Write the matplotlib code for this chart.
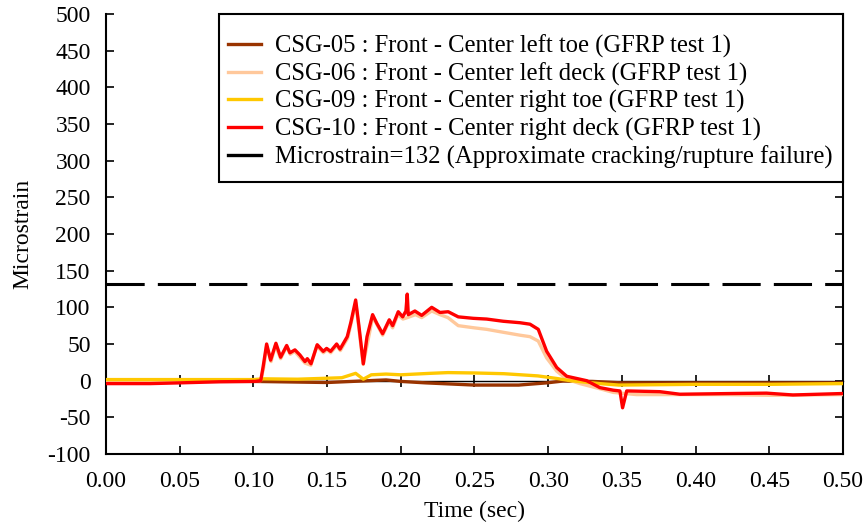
import matplotlib.pyplot as plt
from matplotlib.lines import Line2D
from matplotlib.patches import Rectangle

plt.rcParams['font.family'] = ['Liberation Serif', 'DejaVu Serif']
plt.rcParams['font.size'] = 17
plt.rcParams['axes.unicode_minus'] = False

# strain gauge readings (microstrain) vs time (sec)
t_csg05 = [0.0, 0.05, 0.10, 0.15, 0.19, 0.20, 0.217, 0.25, 0.28, 0.299, 0.31, 0.33, 0.35, 0.40, 0.45, 0.50]
csg05 = [-1, -1, -1, -2.5, 1, -1, -3, -6, -6, -3, -0.5, -1, -3, -3, -3, -3]

t_csg06 = [0.0, 0.05, 0.10, 0.105, 0.107, 0.109, 0.112, 0.115, 0.1185, 0.1225, 0.125, 0.128, 0.135,
           0.139, 0.143, 0.1475, 0.150, 0.1525, 0.1565, 0.159, 0.164, 0.1695, 0.1745, 0.181, 0.1877,
           0.192, 0.1945, 0.198, 0.2015, 0.2045, 0.210, 0.2142, 0.221, 0.2266, 0.232, 0.239, 0.250,
           0.2583, 0.2695, 0.2809, 0.2877, 0.2933, 0.299, 0.3058, 0.3126, 0.3216, 0.3351, 0.3442,
           0.360, 0.380, 0.420, 0.450, 0.500]
csg06 = [0.5, 0, 0.5, 0, 18, 47, 26, 48, 30, 46, 36, 40, 24,
         21, 47, 38, 42, 38, 48, 41, 58, 106, 22, 87, 62,
         80, 72, 90, 84, 86, 90, 86, 95, 90, 86, 75, 72,
         70, 66, 62, 60, 54, 31, 13, 2, -4, -11, -16,
         -19, -19, -19, -20, -19]

t_csg09 = [0.0, 0.05, 0.10, 0.107, 0.13, 0.16, 0.1694, 0.1746, 0.18, 0.19, 0.20, 0.22, 0.232, 0.25,
           0.27, 0.293, 0.3058, 0.315, 0.335, 0.348, 0.40, 0.45, 0.50]
csg09 = [1.5, 1.5, 1.5, 2.5, 2, 4, 10, 2, 8, 9, 8, 10, 11, 10.5,
         9.5, 6.5, 3, 0, -4, -6, -5, -5, -4]

t_csg10 = [0.0, 0.030, 0.050, 0.077, 0.101, 0.105, 0.1067, 0.109, 0.1117, 0.1153, 0.1185, 0.1226,
           0.1248, 0.1282, 0.1316, 0.135, 0.1366, 0.1391, 0.1433, 0.1474, 0.1497, 0.1524, 0.1565,
           0.1588, 0.1637, 0.1662, 0.1694, 0.1716, 0.1746, 0.1771, 0.1809, 0.1838, 0.1877, 0.1922,
           0.1945, 0.1983, 0.2013, 0.2035, 0.2044, 0.2051, 0.2096, 0.2142, 0.221, 0.2266, 0.2322,
           0.239, 0.2492, 0.2583, 0.2695, 0.2809, 0.2877, 0.2933, 0.299, 0.3058, 0.3126, 0.3216,
           0.3261, 0.3351, 0.3442, 0.3487, 0.3505, 0.3533, 0.3758, 0.3894, 0.4254, 0.4482, 0.4661, 0.50]
csg10 = [-4, -4, -3, -1.5, -1, 0, 20, 50, 28, 51, 32, 48,
         38, 42, 35, 26, 30, 23, 49, 40, 44, 40, 50,
         43, 60, 80, 110, 75, 23, 60, 90, 78, 64, 83,
         75, 94, 87, 95, 118, 90, 95, 89, 100, 93, 94,
         87, 85, 84, 81, 79, 77, 70, 40, 18, 6, 2,
         0, -9.5, -13, -14, -37, -14, -15, -18.5, -17.5, -17, -19.5, -17.5]

cracking_strain = 132

series = [
    (t_csg05, csg05, '#993300', 'CSG-05 : Front - Center left toe (GFRP test 1)'),
    (t_csg06, csg06, '#ffc89b', 'CSG-06 : Front - Center left deck (GFRP test 1)'),
    (t_csg09, csg09, '#ffc800', 'CSG-09 : Front - Center right toe (GFRP test 1)'),
    (t_csg10, csg10, '#ff0000', 'CSG-10 : Front - Center right deck (GFRP test 1)'),
]

fig = plt.figure(figsize=(8.68, 5.27), dpi=100)
ax = fig.add_axes([0.1221, 0.1385, 0.849, 0.835])

handles = []
for t, v, c, lab in series:
    ax.plot(t, v, color=c, lw=2.4, zorder=3, solid_joinstyle='round')
    handles.append(Line2D([], [], color=c, lw=2.4, label=lab))

ax.axhline(cracking_strain, color='black', lw=2.2, dashes=(12.5, 4.3), zorder=4)
handles.append(Line2D([], [], color='black', lw=2.4,
                      label='Microstrain=%d (Approximate cracking/rupture failure)' % cracking_strain))

ax.set_xlim(0, 0.5)
ax.set_ylim(-100, 500)
xt = [0.0, 0.05, 0.10, 0.15, 0.20, 0.25, 0.30, 0.35, 0.40, 0.45, 0.50]
ax.set_xticks(xt)
ax.set_xticklabels(['%.2f' % x for x in xt])
ax.set_yticks(range(-100, 501, 50))

ax.spines['top'].set_visible(False)
for s in ['left', 'right', 'bottom']:
    ax.spines[s].set_linewidth(1.5)
ax.tick_params(axis='both', direction='in', length=6, width=1.2)
ax.tick_params(axis='y', right=True, pad=11)
ax.tick_params(axis='x', pad=12.5)

# zero axis with crossing ticks
zero_ax = ax.secondary_xaxis(100 / 600)
zero_ax.set_xticks(xt[1:-1])
zero_ax.tick_params(direction='inout', length=8, width=1.2, labelbottom=False, labeltop=False)
zero_ax.spines['bottom'].set_linewidth(1.0)
zero_ax.spines['top'].set_linewidth(1.0)

ax.set_xlabel('Time (sec)', labelpad=6)
ax.set_ylabel('Microstrain', labelpad=10)

# legend box, anchored to the top right corner of the axes
ax.add_patch(Rectangle((0.1533, 0.618), 0.8467, 0.382, transform=ax.transAxes,
                       facecolor='white', edgecolor='black', lw=1.5, zorder=5, clip_on=False))
leg = ax.legend(handles=handles, loc='upper right', bbox_to_anchor=(0.9864, 0.9535),
                borderaxespad=0, frameon=False, fontsize=17.7, handlelength=1.35,
                handletextpad=0.58, labelspacing=0.18, borderpad=0)
leg.set_zorder(6)

fig.savefig('out.png', dpi=100)
